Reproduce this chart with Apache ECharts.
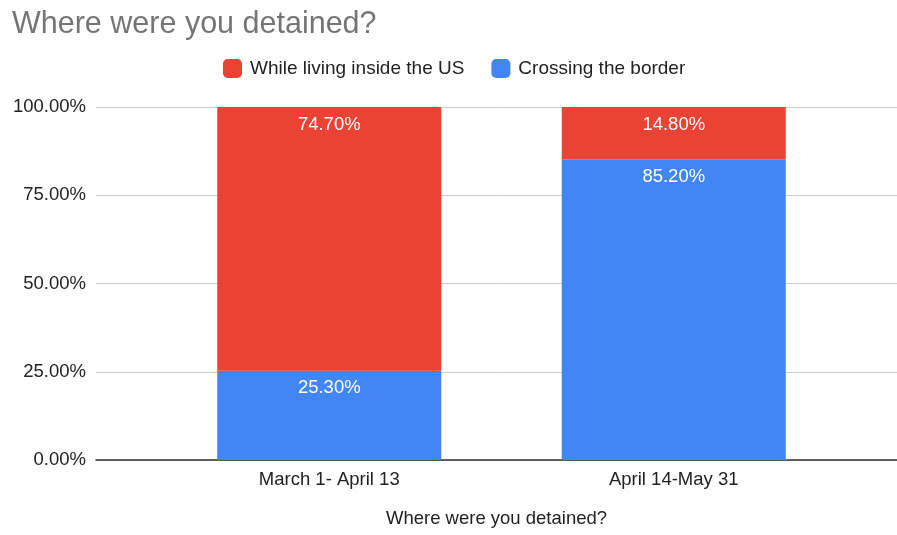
<!DOCTYPE html>
<html><head><meta charset="utf-8">
<script src="https://cdn.jsdelivr.net/npm/echarts@6/dist/echarts.min.js"></script>
<style>html,body{margin:0;padding:0;background:#fff}#c{width:897px;height:535px}</style>
</head><body><div id="c"></div>
<script>
const categories = ['March 1- April 13', 'April 14-May 31'];
const insideUS = [74.7, 14.8];
const crossingBorder = [25.3, 85.2];
const yTicks = [0, 25, 50, 75, 100];
const seriesNames = ['While living inside the US', 'Crossing the border'];
const titleText = 'Where were you detained?';
const xAxisName = 'Where were you detained?';

const FONT = '"Liberation Sans", Arial, sans-serif';
const chart = echarts.init(document.getElementById('c'));
const lbl = {show: true, position: 'insideTop', distance: 8, color: '#fff', fontSize: 18.5, fontFamily: FONT,
  formatter: p => p.value.toFixed(2) + '%'};
chart.setOption({
  animation: false,
  title: {text: titleText, left: 7, top: 4, textStyle: {color: '#757575', fontSize: 30.5, fontWeight: 'normal', fontFamily: FONT}},
  legend: {left: 218, top: 54, itemWidth: 19, itemHeight: 19, itemGap: 27, icon: 'roundRect',
    textStyle: {fontSize: 19, color: '#222', fontFamily: FONT, padding: [0, 0, 0, 3]}, data: seriesNames},
  grid: [
    {left: 96, right: 0, top: 107, bottom: 75, outerBoundsMode: 'none', containLabel: false},
    {left: 157, right: 51, top: 107, bottom: 75, outerBoundsMode: 'none', containLabel: false}
  ],
  xAxis: [
    {gridIndex: 0, type: 'value', min: 0, max: 1, axisLine: {show: true, lineStyle: {color: '#333', width: 1.5}},
      axisTick: {show: false}, axisLabel: {show: false}, splitLine: {show: false},
      name: xAxisName, nameLocation: 'middle', nameGap: 49, nameTextStyle: {fontSize: 18.5, color: '#222', fontFamily: FONT}},
    {gridIndex: 1, type: 'category', data: categories, axisLine: {show: false}, axisTick: {show: false},
      axisLabel: {margin: 10, fontSize: 18.5, color: '#222', fontFamily: FONT}}
  ],
  yAxis: [
    {gridIndex: 0, type: 'value', min: 0, max: 100, interval: 25, axisLine: {show: false}, axisTick: {show: false},
      axisLabel: {margin: 10, fontSize: 18.5, color: '#222', fontFamily: FONT,
        formatter: v => yTicks.includes(v) ? v.toFixed(2) + '%' : ''},
      splitLine: {lineStyle: {color: '#ccc', width: 1}}},
    {gridIndex: 1, type: 'value', min: 0, max: 100, show: false, splitLine: {show: false}}
  ],
  series: [
    {name: seriesNames[1], type: 'bar', stack: 's', xAxisIndex: 1, yAxisIndex: 1, barWidth: 224,
      itemStyle: {color: '#4285F4'}, label: lbl, data: crossingBorder, z: 3},
    {name: seriesNames[0], type: 'bar', stack: 's', xAxisIndex: 1, yAxisIndex: 1, barWidth: 224,
      itemStyle: {color: '#EA4335'}, label: lbl, data: insideUS, z: 3}
  ]
});
</script></body></html>
